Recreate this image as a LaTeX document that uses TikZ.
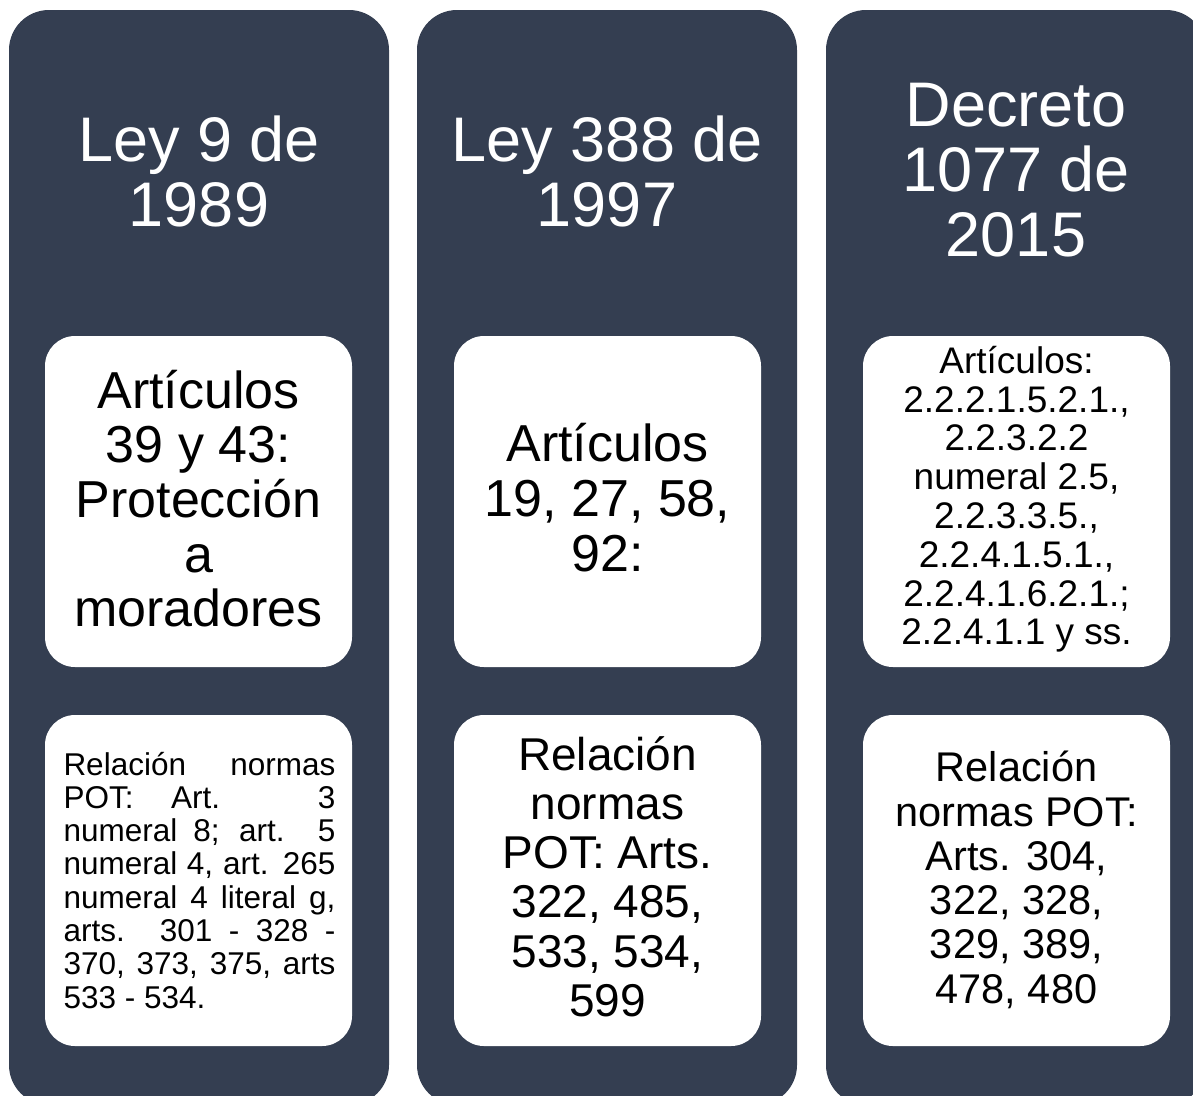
\documentclass[tikz,border=0pt]{standalone}
\usepackage{fontspec}
\setmainfont{Liberation Sans}
\definecolor{colbg}{RGB}{52,62,81}
\newcommand\fsz[2]{\fontsize{#1}{#2}\selectfont}
\begin{document}
\begin{tikzpicture}[x=1pt,y=-1pt,
  column/.style={fill=colbg, draw=none, rounded corners=40pt, minimum width=380pt, minimum height=1095pt, inner sep=0pt},
  wbox/.style={fill=white, draw=none, rounded corners=30pt, minimum width=307pt, minimum height=331pt, inner sep=0pt},
  ttl/.style={text=white, align=center, anchor=base, inner sep=0pt, font=\fsz{63pt}{65pt}},
  btxt/.style={text=black, align=center, anchor=base, inner sep=0pt}]
\useasboundingbox (0,0) rectangle (1193,1095);
\clip (0,0) rectangle (1193,1095);
% columns
\node[column] (c1) at (199,557.5) {};
\node[column] (c2) at (607,557.5) {};
\node[column] (c3) at (1016,557.5) {};
% white boxes
\node[wbox] (a1) at (198.5,501.5) {};
\node[wbox] (b1) at (198.5,880.5) {};
\node[wbox] (a2) at (607.5,501.5) {};
\node[wbox] (b2) at (607.5,880.5) {};
\node[wbox] (a3) at (1016.5,501.5) {};
\node[wbox] (b3) at (1016.5,880.5) {};
% titles (anchor base = baseline of last line)
\node[ttl] (t1) at (199,226.7) {Ley 9 de\\1989};
\node[ttl] (t2) at (607,226.7) {Ley 388 de\\1997};
\node[ttl] (t3) at (1016,256.7) {Decreto\\1077 de\\2015};
% box texts
\node[btxt, font=\fsz{52pt}{54.7pt}] (ta1) at (198.5,626.8) {Artículos\\39 y 43:\\Protección\\a\\moradores};
\node[btxt, font=\fsz{52pt}{55pt}] (ta2) at (607.5,571) {Artículos\\19, 27, 58,\\92:};
\node[btxt, font=\fsz{37pt}{38.8pt}] (ta3) at (1016.5,644.9) {Artículos:\\2.2.2.1.5.2.1.,\\2.2.3.2.2\\numeral 2.5,\\2.2.3.3.5.,\\2.2.4.1.5.1.,\\2.2.4.1.6.2.1.;\\2.2.4.1.1 y ss.};
\node[btxt, font=\fsz{46pt}{49.3pt}] (tb2) at (607.5,1016.5) {Relación\\normas\\POT: Arts.\\322, 485,\\533, 534,\\599};
\node[btxt, font=\fsz{41.5pt}{44.3pt}] (tb3) at (1016.5,1003.2) {Relación\\normas POT:\\Arts. 304,\\322, 328,\\329, 389,\\478, 480};
\node[text=black, align=left, anchor=base west, inner sep=0pt, font=\fsz{31.5pt}{33.3pt}] (tb1) at (63.3,1008.1) {%
\makebox[272pt][s]{Relación normas}\\
\makebox[272pt][s]{POT: Art. 3}\\
\makebox[272pt][s]{numeral 8; art. 5}\\
\makebox[272pt][s]{numeral 4, art. 265}\\
\makebox[272pt][s]{numeral 4 literal g,}\\
\makebox[272pt][s]{arts. 301 - 328 -}\\
\makebox[272pt][s]{370, 373, 375, arts}\\
533 - 534.};
\end{tikzpicture}
\end{document}
